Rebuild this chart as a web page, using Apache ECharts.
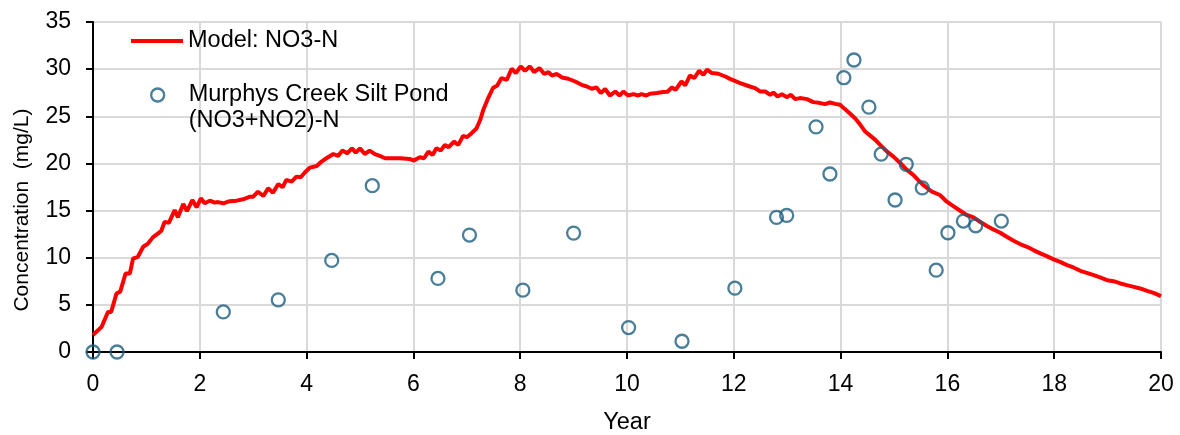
<!DOCTYPE html>
<html>
<head>
<meta charset="utf-8">
<script src="https://cdn.jsdelivr.net/npm/echarts@6/dist/echarts.min.js"></script>
<style>
  html, body { margin: 0; padding: 0; background: #fff; }
  #chart { width: 1180px; height: 435px; }
</style>
</head>
<body>
<div id="chart"></div>
<script>
// Modelled nitrate-N concentration over time
const modelYear = [
  0.00, 0.16, 0.28, 0.34, 0.44, 0.51, 0.61, 0.69, 0.75, 0.84, 0.94, 1.03, 1.12, 1.22, 1.28, 1.34, 1.42, 1.53, 1.59, 1.69,
  1.76, 1.86, 1.94, 2.02, 2.09, 2.19, 2.28, 2.34, 2.44, 2.56, 2.69, 2.81, 2.94, 3.00, 3.09, 3.19, 3.28, 3.37, 3.47, 3.55,
  3.62, 3.72, 3.81, 3.89, 3.97, 4.06, 4.19, 4.28, 4.37, 4.50, 4.59, 4.67, 4.76, 4.85, 4.92, 5.00, 5.09, 5.18, 5.28, 5.37,
  5.47, 5.56, 5.75, 5.93, 6.01, 6.12, 6.20, 6.28, 6.36, 6.43, 6.51, 6.59, 6.66, 6.76, 6.84, 6.93, 7.00, 7.09, 7.18, 7.25,
  7.31, 7.40, 7.49, 7.57, 7.65, 7.75, 7.84, 7.92, 8.01, 8.09, 8.18, 8.26, 8.36, 8.45, 8.53, 8.59, 8.69, 8.78, 8.90, 9.03,
  9.15, 9.25, 9.34, 9.43, 9.51, 9.59, 9.68, 9.78, 9.86, 9.93, 10.02, 10.12, 10.21, 10.27, 10.36, 10.43, 10.56, 10.68, 10.76, 10.84,
  10.91, 11.02, 11.09, 11.18, 11.26, 11.35, 11.43, 11.50, 11.59, 11.71, 11.84, 11.93, 12.12, 12.30, 12.40, 12.49, 12.59, 12.68, 12.74, 12.82,
  12.90, 12.99, 13.07, 13.15, 13.24, 13.37, 13.49, 13.62, 13.71, 13.80, 13.90, 13.99, 14.08, 14.18, 14.27, 14.37, 14.46, 14.56, 14.65, 14.74,
  14.87, 14.99, 15.12, 15.24, 15.36, 15.46, 15.55, 15.71, 15.86, 15.99, 16.11, 16.24, 16.36, 16.49, 16.61, 16.74, 16.86, 16.99, 17.11, 17.24,
  17.36, 17.49, 17.61, 17.74, 17.86, 17.99, 18.11, 18.24, 18.36, 18.49, 18.61, 18.74, 18.86, 18.99, 19.11, 19.24, 19.36, 19.49, 19.61, 19.74,
  19.86, 20.00
];
const modelConc = [
  1.80, 2.66, 4.25, 4.25, 6.20, 6.40, 8.33, 8.33, 9.90, 10.10, 11.16, 11.50, 12.16, 12.58, 12.86, 13.80, 13.70, 15.06, 14.28, 15.70,
  14.95, 16.12, 15.34, 16.30, 15.77, 16.05, 15.84, 15.90, 15.77, 16.00, 16.05, 16.20, 16.47, 16.47, 17.00, 16.55, 17.36, 16.90, 17.82, 17.47,
  18.25, 18.07, 18.60, 18.53, 19.07, 19.55, 19.73, 20.20, 20.55, 21.00, 20.80, 21.36, 21.08, 21.60, 21.15, 21.60, 21.00, 21.36, 20.98, 20.80,
  20.55, 20.55, 20.55, 20.48, 20.30, 20.66, 20.55, 21.25, 20.90, 21.60, 21.36, 21.97, 21.72, 22.32, 21.97, 22.92, 22.78, 23.21, 23.70, 24.60,
  25.70, 26.93, 28.00, 28.27, 29.05, 28.87, 30.04, 29.58, 30.29, 29.83, 30.29, 29.69, 30.11, 29.48, 29.69, 29.33, 29.48, 29.12, 28.98, 28.69,
  28.34, 28.16, 27.92, 28.06, 27.46, 27.89, 27.20, 27.63, 27.20, 27.63, 27.20, 27.35, 27.20, 27.35, 27.20, 27.39, 27.46, 27.57, 27.60, 28.06,
  27.81, 28.69, 28.27, 29.33, 29.05, 29.83, 29.40, 29.94, 29.58, 29.51, 29.22, 28.97, 28.52, 28.16, 27.99, 27.63, 27.63, 27.28, 27.52, 27.10,
  27.35, 27.03, 27.28, 26.82, 26.93, 26.82, 26.50, 26.40, 26.29, 26.46, 26.32, 26.22, 25.76, 25.26, 24.80, 24.09, 23.38, 22.92, 22.50, 21.97,
  21.25, 20.72, 20.02, 19.31, 18.78, 18.20, 17.70, 17.00, 16.65, 15.94, 15.48, 14.98, 14.53, 14.28, 13.81, 13.36, 13.00, 12.65, 12.22, 11.80,
  11.45, 11.16, 10.81, 10.46, 10.17, 9.82, 9.56, 9.21, 8.97, 8.61, 8.40, 8.15, 7.91, 7.62, 7.51, 7.27, 7.09, 6.91, 6.74, 6.48,
  6.27, 5.92
];

// Measured (NO3+NO2)-N samples at the silt pond
const obsYear = [0.00, 0.45, 2.44, 3.47, 4.47, 5.23, 6.46, 7.05, 8.05, 9.00, 10.03, 11.03, 12.02, 12.80, 12.99,
  13.54, 13.80, 14.06, 14.25, 14.53, 14.76, 15.02, 15.23, 15.53, 15.79, 16.01, 16.30, 16.53, 17.01];
const obsConc = [0.00, 0.00, 4.25, 5.53, 9.71, 17.64, 7.80, 12.40, 6.56, 12.61, 2.59, 1.14, 6.77, 14.28, 14.49,
  23.88, 18.88, 29.09, 30.97, 25.97, 20.98, 16.12, 19.91, 17.40, 8.68, 12.65, 13.89, 13.39, 13.89];

const modelName = 'Model: NO3-N';
const obsName = 'Murphys Creek Silt Pond\n(NO3+NO2)-N';

const FONT = '"Liberation Sans", Arial, sans-serif';
const RED = '#ff0000';
const TEAL = '#1b5e7e';

const chart = echarts.init(document.getElementById('chart'), null, { renderer: 'canvas' });

chart.setOption({
  animation: false,
  backgroundColor: '#fff',
  textStyle: { fontFamily: FONT, color: '#000' },
  grid: { left: 93, right: 19, top: 22, bottom: 83, containLabel: false, outerBoundsMode: 'none' },
  legend: [
    {
      data: [{ name: modelName, icon: 'rect', itemStyle: { color: RED } }],
      left: 131,
      top: 29,
      orient: 'vertical',
      itemWidth: 52,
      itemHeight: 4,
      itemGap: 0,
      padding: 0,
      textStyle: { fontFamily: FONT, fontSize: 23.5, color: '#000' }
    },
    {
      data: [{
        name: obsName,
        icon: 'circle',
        itemStyle: { color: 'rgba(255,255,255,0)', borderColor: TEAL, borderWidth: 2.3 }
      }],
      // a blank leading line keeps the marker level with the first line of the label
      formatter: (name) => ' \n' + name,
      // the box starts at the marker's own edge, so this puts the marker centre at x = 157
      left: 150,
      top: 56,
      orient: 'vertical',
      itemWidth: 52,
      itemHeight: 13,
      padding: 0,
      textStyle: { fontFamily: FONT, fontSize: 23.5, lineHeight: 26, color: '#000' }
    }
  ],
  xAxis: {
    type: 'value',
    min: 0,
    max: 20,
    interval: 2,
    name: 'Year',
    nameLocation: 'middle',
    nameGap: 59,
    nameTextStyle: { fontFamily: FONT, fontSize: 23.5, color: '#000' },
    axisLine: { show: true, onZero: false, lineStyle: { color: '#000', width: 2 } },
    axisTick: { show: true, inside: false, length: 7, lineStyle: { color: '#000', width: 2 } },
    axisLabel: { fontFamily: FONT, fontSize: 23, color: '#000', margin: 21 },
    splitLine: { show: true, lineStyle: { color: '#d9d9d9', width: 2 } }
  },
  yAxis: {
    type: 'value',
    min: 0,
    max: 35,
    interval: 5,
    name: 'Concentration  (mg/L)',
    nameLocation: 'middle',
    nameGap: 60,
    nameTextStyle: { fontFamily: FONT, fontSize: 21, color: '#000', padding: [0, 46, 0, 0] },
    axisLine: { show: true, lineStyle: { color: '#000', width: 2 } },
    axisTick: { show: true, inside: false, length: 7, lineStyle: { color: '#000', width: 2 } },
    axisLabel: { fontFamily: FONT, fontSize: 23, color: '#000', margin: 22 },
    splitLine: { show: true, lineStyle: { color: '#d9d9d9', width: 2 } }
  },
  series: [
    {
      name: modelName,
      type: 'line',
      data: modelYear.map((x, i) => [x, modelConc[i]]),
      showSymbol: false,
      symbol: 'none',
      smooth: false,
      lineStyle: { color: RED, width: 4 },
      itemStyle: { color: RED },
      z: 2
    },
    {
      name: obsName,
      type: 'scatter',
      data: obsYear.map((x, i) => [x, obsConc[i]]),
      symbol: 'circle',
      symbolSize: 13,
      itemStyle: { color: 'rgba(255,255,255,0)', borderColor: TEAL, borderWidth: 2.3 },
      z: 3
    }
  ]
});
</script>
</body>
</html>
